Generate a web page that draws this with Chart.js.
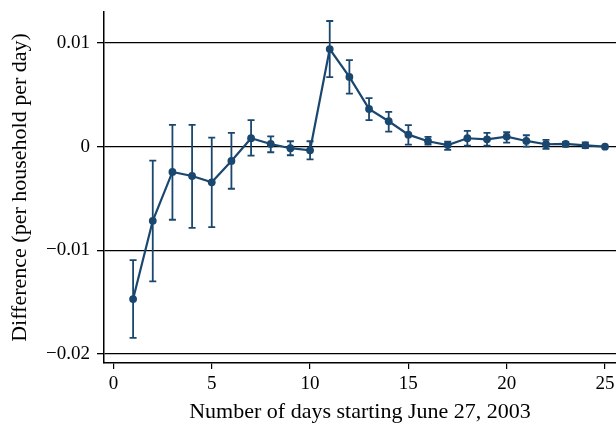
<!DOCTYPE html>
<html>
<head>
<meta charset="utf-8">
<script src="https://cdn.jsdelivr.net/npm/chart.js@4"></script>
<style>
  html, body { margin: 0; padding: 0; background: #fff; }
  #wrap { width: 616px; height: 425px; }
</style>
</head>
<body>
<div id="wrap"><canvas id="diffChart" width="616" height="425"></canvas></div>
<script>
// days since June 27, 2003
const days = [1, 2, 3, 4, 5, 6, 7, 8, 9, 10, 11, 12, 13, 14, 15, 16, 17, 18, 19, 20, 21, 22, 23, 24, 25];

// estimated difference per household per day
const diff = [-0.0147, -0.00715, -0.00244, -0.00283, -0.00344, -0.00138, 0.00081, 0.00026, -0.00015, -0.00035,
              0.00941, 0.00673, 0.00364, 0.00245, 0.00116, 0.00052, 0.00016, 0.00081, 0.00071, 0.00097,
              0.00055, 0.00023, 0.00026, 0.00013, 0.0];

// confidence interval bounds
const ciHigh = [-0.01095, -0.00135, 0.0021, 0.0021, 0.00087, 0.00132, 0.00255, 0.0010, 0.00052, 0.00052,
                0.01212, 0.00835, 0.00468, 0.00335, 0.00207, 0.00094, 0.00048, 0.00152, 0.00132, 0.00139,
                0.0011, 0.00065, 0.00045, 0.00042, 0.0];
const ciLow = [-0.01845, -0.0130, -0.00705, -0.00783, -0.00776, -0.00406, -0.00087, -0.00054, -0.00083, -0.00122,
               0.0067, 0.00512, 0.00255, 0.00145, 0.00019, 0.00019, -0.00032, 0.0001, 0.0001, 0.00039,
               0.0, -0.0002, 0.0, -0.00013, 0.0];

const yTicks = [-0.02, -0.01, 0, 0.01];
const xTicks = [0, 5, 10, 15, 20, 25];

const navy = '#1a476f';
const serif = '"Liberation Serif", "DejaVu Serif", serif';

// draws the vertical CI bars using the chart scales
const errorBars = {
    id: 'errorBars',
    beforeDatasetsDraw(chart) {
        const { ctx, scales: { x, y } } = chart;
        ctx.save();
        ctx.strokeStyle = navy;
        ctx.lineWidth = 1.8;
        days.forEach((d, i) => {
            const px = x.getPixelForValue(d);
            const top = y.getPixelForValue(ciHigh[i]);
            const bot = y.getPixelForValue(ciLow[i]);
            if (Math.abs(bot - top) < 1) return;
            ctx.beginPath();
            ctx.moveTo(px, top);
            ctx.lineTo(px, bot);
            ctx.moveTo(px - 3.5, top);
            ctx.lineTo(px + 3.5, top);
            ctx.moveTo(px - 3.5, bot);
            ctx.lineTo(px + 3.5, bot);
            ctx.stroke();
        });
        ctx.restore();
    }
};

const ctx = document.getElementById('diffChart').getContext('2d');
new Chart(ctx, {
    type: 'line',
    data: {
        datasets: [{
            data: days.map((d, i) => ({ x: d, y: diff[i] })),
            borderColor: navy,
            backgroundColor: navy,
            borderWidth: 2.2,
            pointRadius: 3.9,
            pointBorderWidth: 0,
            tension: 0,
            clip: false
        }]
    },
    plugins: [errorBars],
    options: {
        responsive: false,
        animation: false,
        layout: { autoPadding: false, padding: { top: 12, right: 0, left: 0, bottom: 0 } },
        plugins: {
            legend: { display: false },
            tooltip: { enabled: false }
        },
        scales: {
            x: {
                type: 'linear',
                min: -0.48,
                max: 25.56,
                afterBuildTicks: s => { s.ticks = xTicks.map(v => ({ value: v })); },
                afterFit: s => { s.height = 62; s.paddingLeft = 0; s.paddingRight = 0; },
                ticks: {
                    color: '#000',
                    font: { family: serif, size: 19 },
                    padding: 4,
                    maxRotation: 0
                },
                grid: {
                    drawOnChartArea: false,
                    drawTicks: true,
                    tickLength: 6,
                    color: '#000',
                    lineWidth: 1.2
                },
                border: { display: true, color: '#000', width: 1.5 },
                title: {
                    display: true,
                    text: 'Number of days starting June 27, 2003',
                    color: '#000',
                    font: { family: serif, size: 22 },
                    padding: { top: 4, bottom: 0 }
                }
            },
            y: {
                min: -0.02087,
                max: 0.01299,
                afterBuildTicks: s => { s.ticks = yTicks.map(v => ({ value: v })); },
                afterFit: s => { s.width = 104; s.paddingTop = 0; s.paddingBottom = 0; },
                ticks: {
                    color: '#000',
                    font: { family: serif, size: 19 },
                    padding: 7,
                    callback: v => v === 0 ? '0' : String(v).replace('-', '\u2212')
                },
                grid: {
                    drawTicks: true,
                    tickLength: 7,
                    color: '#000',
                    lineWidth: 1.3
                },
                border: { display: true, color: '#000', width: 1.5 },
                title: {
                    display: true,
                    text: 'Difference (per household per day)',
                    color: '#000',
                    font: { family: serif, size: 22 },
                    padding: { top: 7, bottom: 4 }
                }
            }
        }
    }
});
</script>
</body>
</html>
